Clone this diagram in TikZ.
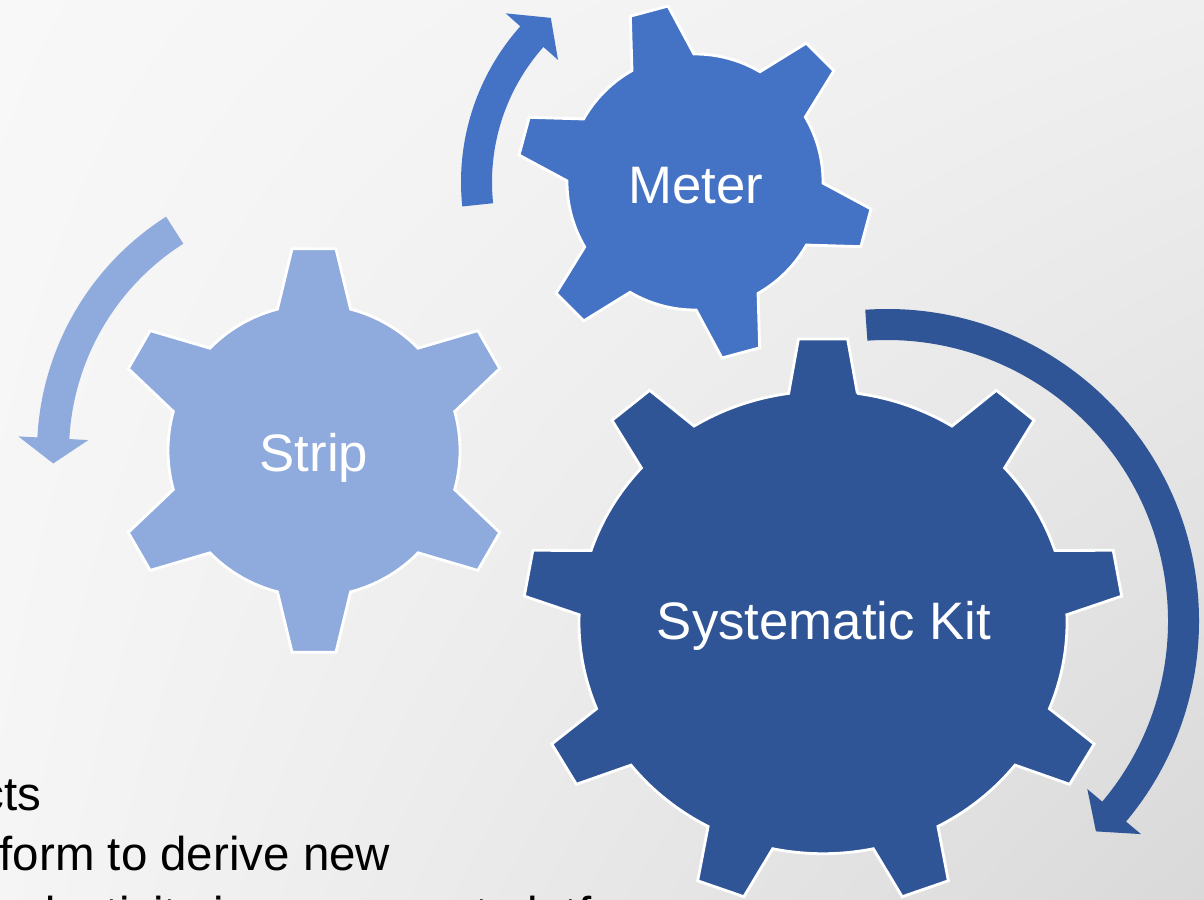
\documentclass[tikz,border=0pt]{standalone}
\usepackage{fontspec}
\setmainfont{Liberation Sans}
\usetikzlibrary{shadings}

\definecolor{azulclaro}{HTML}{8FAADC}
\definecolor{azulmedio}{HTML}{4472C4}
\definecolor{azulescuro}{HTML}{2F5597}
\definecolor{fundo1}{HTML}{F8F8F8}
\definecolor{fundo2}{HTML}{EFEFEF}
\definecolor{fundo3}{HTML}{F5F5F5}
\definecolor{fundo4}{HTML}{D9D9D9}

% engrenagem: cor, centro, dentes, angulo inicial, raio externo, raio interno,
% meia largura da ponta, meia largura da base, escala vertical
\newcommand{\engrenagem}[9]{%
  \begin{scope}[shift={#2}, yscale=#9]
    \pgfmathsetmacro{\passo}{360/#3}
    \filldraw[engr, fill=#1] ({#4-#8}:#6)
      \foreach \k in {1,...,#3}{
        -- ({#4+(\k-1)*\passo-#7}:#5)
        -- ({#4+(\k-1)*\passo+#7}:#5)
        -- ({#4+(\k-1)*\passo+#8}:#6)
        arc[start angle={#4+(\k-1)*\passo+#8}, delta angle={\passo-2*#8}, radius=#6]
      } -- cycle;
  \end{scope}}

% seta curva: cor, centro, raio medio, meia espessura, inicio, fim, ponta, meia largura da cabeca
\newcommand{\seta}[8]{%
  \fill[#1] ([shift={#2}]{#5}:{#3+#4}) arc[start angle=#5, end angle=#6, radius={#3+#4}]
    -- ([shift={#2}]{#6}:{#3+#8}) -- ([shift={#2}]{#7}:{#3})
    -- ([shift={#2}]{#6}:{#3-#8}) -- ([shift={#2}]{#6}:{#3-#4})
    arc[start angle=#6, end angle=#5, radius={#3-#4}] -- cycle;}

\begin{document}
\begin{tikzpicture}[x=0.01cm, y=0.01cm]
    \tikzstyle{engr}=[draw=white, line width=0.8pt, line join=miter]
    \tikzstyle{rotulo}=[text=white, font=\fontsize{15}{18}\selectfont, anchor=base, inner sep=0pt]
    \tikzstyle{texto}=[text=black, font=\fontsize{13.5}{17}\selectfont, inner sep=0pt]

    \useasboundingbox (0,0) rectangle (1204,899);
    % Fundo
    \shade[upper left=fundo1, upper right=fundo2, lower left=fundo3, lower right=fundo4]
        (0,0) rectangle (1204,899);

    % Texto ao fundo
    \node[texto, anchor=base east] (l1) at (42,89) {cts};
    \node[texto, anchor=base west] (l2) at (-1,29) {form to derive new};
    \node[texto, anchor=base west] (l3) at (-40,-31) {productivity improvement platform};

    % Setas
    \seta{azulclaro}{(316,447)}{263}{16}{122.5}{177}{182.5}{35}
    \seta{azulmedio}{(695,717)}{218.5}{15.5}{186}{138.3}{131.3}{35}
    \seta{azulescuro}{(887,278)}{296.5}{15.5}{94}{-40}{-45.2}{35}

    % Engrenagens
    \engrenagem{azulclaro}{(314,448.5)}{6}{90}{203}{146}{6.2}{14.5}{1}
    \engrenagem{azulmedio}{(695,717)}{6}{105}{178}{128}{6.3}{14.5}{1}
    \engrenagem{azulescuro}{(823,276.6)}{9}{90}{300}{244}{4.7}{8.1}{0.948}

    % Rotulos
    \node[rotulo] (strip) at (314,428) {Strip};
    \node[rotulo] (meter) at (696,696) {Meter};
    \node[rotulo] (kit) at (824,260) {Systematic Kit};
\end{tikzpicture}
\end{document}
